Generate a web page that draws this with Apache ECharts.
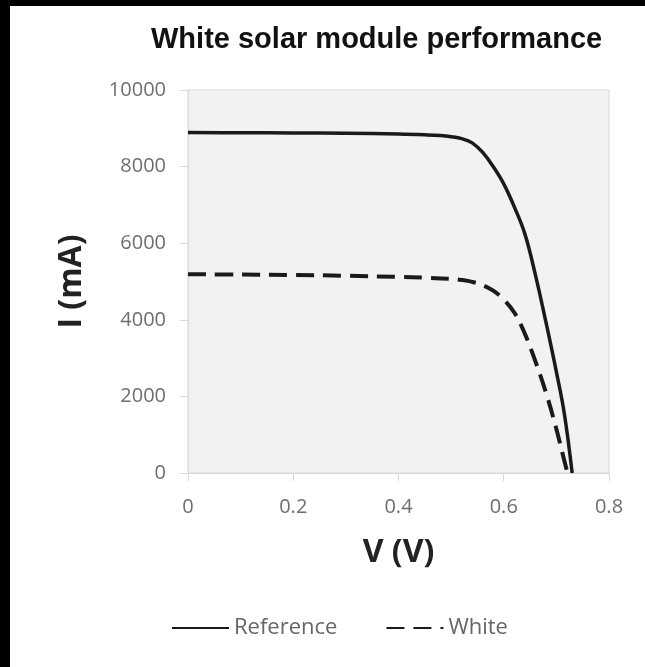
<!DOCTYPE html>
<html>
<head>
<meta charset="utf-8">
<script src="https://cdn.jsdelivr.net/npm/echarts@6/dist/echarts.min.js"></script>
<style>
  html, body { margin: 0; padding: 0; background: #000; }
  #wrap { width: 645px; height: 667px; background: #000; position: relative; overflow: hidden; }
  #chart { position: absolute; left: 10px; top: 6px; width: 635px; height: 661px; background: #fff; }
</style>
</head>
<body>
<div id="wrap"><div id="chart"></div></div>
<script>
// voltage (V) and current (mA)
var refV = [0, 0.1, 0.2, 0.3, 0.4, 0.45, 0.48, 0.5, 0.52, 0.54, 0.56, 0.58, 0.6, 0.62, 0.64, 0.66, 0.68, 0.7, 0.715, 0.73];
var refI = [8890, 8885, 8880, 8870, 8850, 8830, 8810, 8780, 8730, 8620, 8370, 8000, 7550, 6950, 6250, 5180, 3950, 2640, 1560, 0];
var whiteV = [0, 0.1, 0.2, 0.3, 0.4, 0.45, 0.5, 0.52, 0.54, 0.56, 0.58, 0.6, 0.62, 0.64, 0.66, 0.68, 0.7, 0.71, 0.721];
var whiteI = [5190, 5180, 5170, 5150, 5120, 5100, 5070, 5040, 4990, 4905, 4760, 4530, 4190, 3640, 2920, 2110, 1150, 600, 0];
var seriesNames = ["Reference", "White"];

function pairs(xs, ys) {
  return xs.map(function (x, i) { return [x, ys[i]]; });
}

var myChart = echarts.init(document.getElementById("chart"));

var option = {
  animation: false,
  title: {
    text: "White solar module performance",
    left: 136,
    top: 14,
    textStyle: {
      fontFamily: "Liberation Sans",
      fontWeight: "bold",
      fontSize: 29,
      color: "#111",
    },
  },
  legend: {
    data: seriesNames,
    left: 156,
    top: 606,
    itemWidth: 57,
    itemHeight: 14,
    itemGap: 48,
    itemStyle: { opacity: 0, borderWidth: 0 },
    textStyle: {
      fontFamily: "Open Sans",
      fontSize: 22,
      color: "#666",
    },
  },
  grid: {
    left: 178,
    right: 36,
    top: 84,
    bottom: 194,
    show: true,
    backgroundColor: "#f2f2f2",
    borderColor: "#d9d9d9",
    borderWidth: 1,
  },
  xAxis: {
    type: "value",
    min: 0,
    max: 0.8,
    interval: 0.2,
    name: "V (V)",
    nameLocation: "middle",
    nameGap: 64,
    nameTextStyle: {
      fontFamily: "Open Sans",
      fontWeight: "bold",
      fontSize: 32,
      color: "#222",
    },
    axisLine: { show: true, lineStyle: { color: "#d9d9d9", width: 1 } },
    axisTick: { show: true, length: 8, lineStyle: { color: "#d9d9d9" } },
    splitLine: { show: false },
    axisLabel: {
      margin: 24,
      fontFamily: "Open Sans",
      fontSize: 20,
      color: "#6e6e6e",
    },
  },
  yAxis: {
    type: "value",
    min: 0,
    max: 10000,
    interval: 2000,
    name: "I (mA)",
    nameLocation: "middle",
    nameGap: 100,
    nameTextStyle: {
      fontFamily: "Open Sans",
      fontWeight: "bold",
      fontSize: 32,
      color: "#222",
    },
    axisLine: { show: true, lineStyle: { color: "#d9d9d9", width: 1 } },
    axisTick: { show: true, length: 8, lineStyle: { color: "#d9d9d9" } },
    splitLine: { show: false },
    axisLabel: {
      margin: 22,
      fontFamily: "Open Sans",
      fontSize: 20,
      color: "#6e6e6e",
      formatter: function (v) { return String(v); },
    },
  },
  series: [
    {
      name: seriesNames[0],
      type: "line",
      data: pairs(refV, refI),
      smooth: 0.4,
      symbol: "none",
      lineStyle: { color: "#1a1a1a", width: 3.5 },
      itemStyle: { color: "#1a1a1a" },
    },
    {
      name: seriesNames[1],
      type: "line",
      data: pairs(whiteV, whiteI),
      smooth: 0.4,
      symbol: "none",
      lineStyle: { color: "#1a1a1a", width: 4, type: [18, 9] },
      itemStyle: { color: "#1a1a1a" },
    },
  ],
};

myChart.setOption(option);
</script>
</body>
</html>
